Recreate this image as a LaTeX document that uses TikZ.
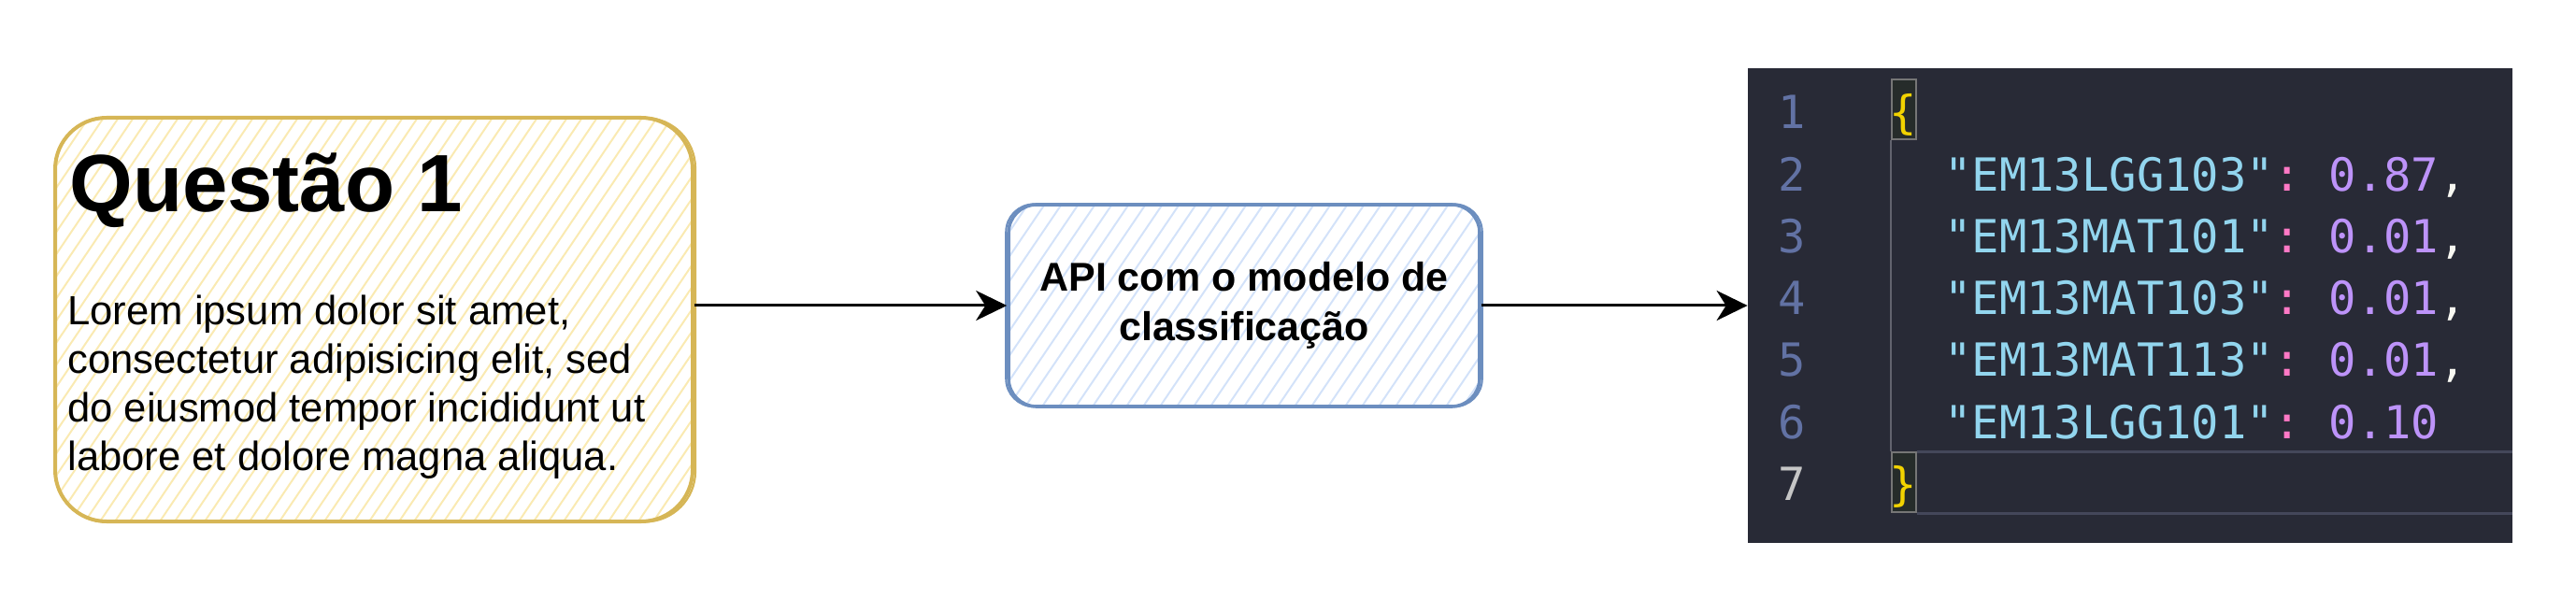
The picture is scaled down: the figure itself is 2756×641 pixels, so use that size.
\documentclass[tikz,border=0pt]{standalone}
\usepackage{fontspec}
\setmainfont{Liberation Sans}
\newfontfamily\codefont{DejaVu Sans Mono}
\usepackage{tikz}
\usetikzlibrary{arrows.meta}
\definecolor{qline}{HTML}{D6B656}
\definecolor{qhatch}{HTML}{FAEAB2}
\definecolor{apiline}{HTML}{6C8EBF}
\definecolor{apihatch}{HTML}{D3E2F9}
\definecolor{panelbg}{HTML}{282A36}
\definecolor{lnum}{HTML}{6272A4}
\definecolor{lnumcur}{HTML}{C6C6C6}
\definecolor{jkey}{HTML}{92D5EE}
\definecolor{jcolon}{HTML}{FF79C6}
\definecolor{jnum}{HTML}{BD93F9}
\definecolor{jtext}{HTML}{F8F8F2}
\definecolor{jbrace}{HTML}{F2D300}
\definecolor{curline}{HTML}{44475A}
\definecolor{guide}{HTML}{62636E}
\definecolor{brfill}{HTML}{262C2A}
\definecolor{brline}{HTML}{767676}
\tikzset{my_arrow/.style={-{Stealth[length=16.5pt,width=16pt,inset=5pt]},line width=1.5pt}}
\tikzset{my_qbox/.style={rectangle, draw=qline, line width=2pt, rounded corners=27.5pt,
    minimum width=341pt, minimum height=216pt,
    path picture={\foreach \i in {-20,...,44}
      \draw[qhatch, line width=1pt] ([xshift=\i*8pt]path picture bounding box.south west) -- ++(152pt,225pt);}}}
\tikzset{my_apibox/.style={rectangle, draw=apiline, line width=1.8pt, rounded corners=15pt,
    minimum width=252pt, minimum height=108pt, align=center,
    font=\fontsize{21.5pt}{26.5pt}\selectfont\bfseries,
    path picture={\foreach \i in {-10,...,30}
      \draw[apihatch, line width=1pt] ([xshift=\i*9pt]path picture bounding box.south west) -- ++(78pt,115pt);}}}
\tikzset{my_title/.style={inner sep=0pt, font=\fontsize{43.5pt}{50pt}\selectfont\bfseries}}
\tikzset{my_text/.style={inner sep=0pt, align=left, font=\fontsize{21.8pt}{25.85pt}\selectfont}}
\tikzset{my_panel/.style={rectangle, fill=panelbg, inner sep=0pt, minimum width=409pt, minimum height=254pt}}
\tikzset{my_lnum/.style={anchor=base, inner sep=0pt, text=lnum, font=\fontsize{24.4pt}{30pt}\codefont}}
\tikzset{my_code/.style={anchor=base west, inner sep=0pt, font=\fontsize{24.4pt}{30pt}\codefont\frenchspacing}}
\tikzset{my_brbox/.style={rectangle, fill=brfill, draw=brline, line width=1pt, inner sep=0pt, minimum width=13pt, minimum height=32pt}}

\begin{document}
\begin{tikzpicture}[x=0.5pt,y=-0.5pt]
    \useasboundingbox (0,0) rectangle (2756,641);
    %\draw[help lines] (0,0) grid[step=100] (2756,641);
    \node[my_qbox] (q) at (400,342) {};
    \draw[qline, line width=1.1pt, rounded corners=27pt]
        ([shift={(1.2pt,0.8pt)}]q.south west) rectangle ([shift={(0.5pt,-1pt)}]q.north east);
    \node[my_title, anchor=base west] (qtitle) at (74,227) {Questão 1};
    \node[my_text, anchor=north west] (qtext) at (72,316)
        {Lorem ipsum dolor sit amet,\\consectetur adipisicing elit, sed\\do eiusmod tempor incididunt ut\\labore et dolore magna aliqua.};

    \node[my_apibox] (api) at (1331,327) {API com o modelo de\\classificação};
    \draw[apiline, line width=1pt, rounded corners=15pt]
        ([shift={(-0.5pt,0.8pt)}]api.south west) rectangle ([shift={(0.5pt,-0.6pt)}]api.north east);

    \node[my_panel] (out) at (2279,327) {};
    \node[my_brbox] (ob) at (2037,117) {};
    \node[my_brbox] (cb) at (2037,516) {};
    \draw[curline, line width=1.5pt] (cb.north east) -- (cb.north east -| out.east);
    \draw[curline, line width=1.5pt] (cb.south east) -- (cb.south east -| out.east);
    \draw[guide, line width=1pt] (ob.south west) -- (cb.north west);

    \foreach \n in {1,...,6}
        \node[my_lnum] (n\n) at (1917.5,{138+66.2*(\n-1)}) {\n};
    \node[my_lnum, text=lnumcur] (n7) at (1917.5,535.2) {7};

    \node[my_code, text=jbrace] (b1) at (2021,138) {\{};
    \foreach \key/\val/\sep [count=\i from 2] in
        {EM13LGG103/0.87/{,}, EM13MAT101/0.01/{,}, EM13MAT103/0.01/{,}, EM13MAT113/0.01/{,}, EM13LGG101/0.10/{}}
        \node[my_code] (c\i) at (2080,{138+66.2*(\i-1)})
            {\textcolor{jkey}{"\key"}\textcolor{jcolon}{:} \textcolor{jnum}{\val}\textcolor{jtext}{\sep}};
    \node[my_code, text=jbrace] (b7) at (2021,535.2) {\}};

    \path
        (q.east |- api.west) edge [my_arrow] (api.west)
        (api) edge [my_arrow] (out)
    ;
\end{tikzpicture}
\end{document}
